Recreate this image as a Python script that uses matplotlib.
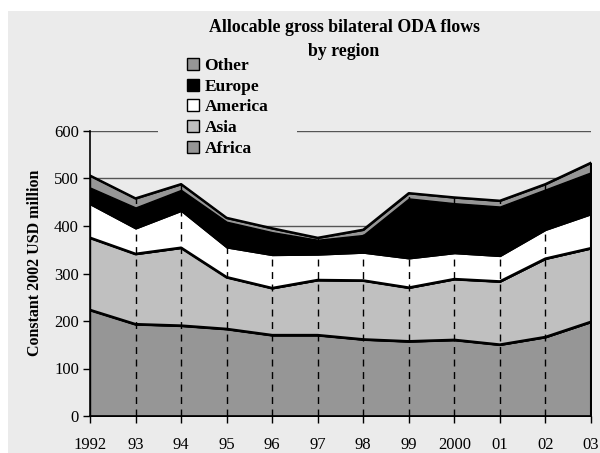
import matplotlib
matplotlib.use("Agg")
import matplotlib.pyplot as plt
from matplotlib.patches import Rectangle, Patch

years = [1992, 1993, 1994, 1995, 1996, 1997, 1998, 1999, 2000, 2001, 2002, 2003]
year_labels = ["1992", "93", "94", "95", "96", "97", "98", "99", "2000", "01", "02", "03"]
africa = [223, 193, 190, 183, 170, 170, 161, 157, 160, 150, 166, 198]
asia = [152, 148, 164, 109, 99, 116, 124, 113, 128, 133, 165, 155]
america = [71, 54, 78, 63, 70, 54, 59, 62, 55, 54, 61, 72]
europe = [35, 44, 44, 54, 48, 31, 37, 126, 105, 104, 85, 88]
other = [25, 19, 12, 8, 8, 4, 11, 11, 12, 12, 11, 20]
series_names = ["Africa", "Asia", "America", "Europe", "Other"]
y_ticks = [0, 100, 200, 300, 400, 500, 600]

colors = ["#969696", "#c0c0c0", "#ffffff", "#000000", "#969696"]
BG = "#ebebeb"
plt.rcParams['font.family'] = ['Liberation Serif', 'DejaVu Serif']

W, H = 600, 453
fig = plt.figure(figsize=(6, 4.53), dpi=100)
fig.patch.set_facecolor("white")
fig.patches.append(Rectangle((8 / W, 0), 1, (H - 11) / H, transform=fig.transFigure,
                             facecolor=BG, edgecolor="none", zorder=-10))

ax = fig.add_axes([90 / W, 1 - 416 / H, (591 - 90) / W, (416 - 131) / H])
ax.set_facecolor("none")
ax.set_axisbelow(True)
ax.yaxis.grid(True, color="#555555", lw=1)
ax.xaxis.grid(False)

data = [africa, asia, america, europe, other]
ax.stackplot(years, *data, colors=colors, edgecolor="black", linewidth=1.0, zorder=2)

cum = []
run = [0] * len(years)
for s in data:
    run = [a + b for a, b in zip(run, s)]
    cum.append(run)

# bold boundary lines
ax.plot(years, cum[0], color="black", lw=2, zorder=4)
ax.plot(years, cum[1], color="black", lw=2, zorder=4)
ax.plot(years, cum[4], color="black", lw=1.8, zorder=4)
# drop lines
ax.vlines(years[1:-1], 0, cum[4][1:-1], colors="black", linestyles=(0, (5, 4)), lw=1, zorder=3)
ax.vlines([years[-1]], 0, cum[4][-1], colors="black", lw=1.5, zorder=4)

ax.set_xlim(years[0], years[-1])
ax.set_ylim(0, 600)
ax.set_yticks(y_ticks)
ax.set_xticks(years)
ax.set_xticklabels(year_labels)
for sp in ["top", "right"]:
    ax.spines[sp].set_visible(False)
for sp in ["left", "bottom"]:
    ax.spines[sp].set_color("black")
    ax.spines[sp].set_linewidth(1.2)
    ax.spines[sp].set_zorder(5)
ax.tick_params(axis="both", direction="out", length=5, width=1, labelsize=12, colors="black")
ax.tick_params(axis="x", pad=10)
ax.tick_params(axis="y", pad=3)
ax.set_ylabel("Constant 2002 USD million", fontsize=11.5, fontweight="bold")
ax.yaxis.set_label_coords((43 - 90) / (591 - 90), (416 - 263) / (416 - 131))

# gap in top gridline behind legend
ax.add_patch(Rectangle((158 / W, 1 - 138 / H), (297 - 158) / W, 14 / H, transform=fig.transFigure,
                       facecolor=BG, edgecolor="none", zorder=1, clip_on=False))

fig.text(344 / W, 1 - 28 / H, "Allocable gross bilateral ODA flows", ha="center", va="center",
         fontsize=12.8, fontweight="bold")
fig.text(344 / W, 1 - 52 / H, "by region", ha="center", va="center",
         fontsize=12.8, fontweight="bold")

handles = [Patch(facecolor=c, edgecolor="black", lw=1) for c in colors]
order = [4, 3, 2, 1, 0]
leg = fig.legend([handles[i] for i in order], [series_names[i] for i in order],
                 loc="upper left", bbox_to_anchor=(187 / W, 1 - 58 / H),
                 frameon=False, prop={"weight": "bold", "size": 12.5},
                 handlelength=0.7, handleheight=0.7, handletextpad=0.3,
                 labelspacing=0.26, borderpad=0, borderaxespad=0)

fig.savefig("out.png", dpi=100, facecolor="white")
